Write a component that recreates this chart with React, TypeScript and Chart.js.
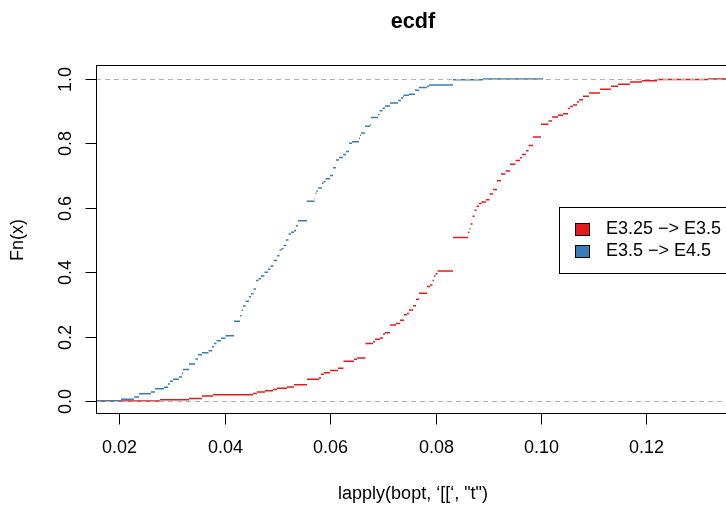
import React, { useEffect, useRef } from "react";
import { Chart, registerables } from "chart.js";

Chart.register(...registerables);

// ---- data ----
const X_MIN = 0.01556;
const X_MAX = 0.13586;
const Y_MIN = -0.04;
const Y_MAX = 1.04;

const xTicks = [0.02, 0.04, 0.06, 0.08, 0.1, 0.12];
const xTickLabels = ["0.02", "0.04", "0.06", "0.08", "0.10", "0.12"];
const yTicks = [0, 0.2, 0.4, 0.6, 0.8, 1.0];
const yTickLabels = ["0.0", "0.2", "0.4", "0.6", "0.8", "1.0"];

const titleText = "ecdf";
const xAxisTitle = "lapply(bopt, \u2018[[\u2018, \"t\")";
const yAxisTitle = "Fn(x)";

const seriesNames = ["E3.25 \u2212> E3.5", "E3.5 \u2212> E4.5"];
const seriesColors = ["#E41A1C", "#377EB8"];

// E3.25 -> E3.5 : jump locations and ecdf level after each jump
const redX = [0.0277, 0.03321, 0.03567, 0.03776, 0.04535, 0.04611, 0.04763, 0.04915, 0.04991, 0.0518,
  0.05313, 0.0556, 0.05787, 0.05825, 0.05882, 0.05996, 0.06148, 0.06252, 0.06452, 0.06509,
  0.0667, 0.06812, 0.0685, 0.06945, 0.07002, 0.0704, 0.07135, 0.07249, 0.07324, 0.074,
  0.07457, 0.07495, 0.07571, 0.07628, 0.07685, 0.07837, 0.07894, 0.07941, 0.0797, 0.07998,
  0.08036, 0.0833, 0.08615, 0.08643, 0.08662, 0.087, 0.08738, 0.08776, 0.08824, 0.08871,
  0.08956, 0.09023, 0.09089, 0.09165, 0.09241, 0.09326, 0.09412, 0.09516, 0.09602, 0.09639,
  0.09715, 0.09763, 0.09848, 0.1, 0.10142, 0.10209, 0.10323, 0.10417, 0.10512, 0.1055,
  0.10607, 0.10683, 0.10721, 0.10797, 0.10911, 0.1112, 0.11328, 0.11461, 0.11689, 0.11917,
  0.12201, 0.13169];
const redF = [0.004, 0.008, 0.016, 0.02, 0.024, 0.028, 0.032, 0.036, 0.04, 0.044,
  0.051, 0.068, 0.072, 0.083, 0.088, 0.095, 0.102, 0.124, 0.13, 0.134,
  0.179, 0.184, 0.192, 0.196, 0.208, 0.212, 0.236, 0.241, 0.251, 0.268,
  0.272, 0.283, 0.296, 0.316, 0.335, 0.356, 0.36, 0.374, 0.388, 0.395,
  0.404, 0.508, 0.523, 0.535, 0.55, 0.574, 0.592, 0.605, 0.613, 0.618,
  0.625, 0.643, 0.657, 0.684, 0.705, 0.714, 0.735, 0.747, 0.755, 0.765,
  0.777, 0.793, 0.82, 0.859, 0.869, 0.882, 0.887, 0.892, 0.908, 0.914,
  0.919, 0.928, 0.935, 0.946, 0.956, 0.968, 0.977, 0.983, 0.99, 0.994,
  0.998, 1.0];
const redEnd = X_MAX;

// E3.5 -> E4.5
const blueX = [0.0203, 0.02277, 0.02372, 0.026, 0.02676, 0.02846, 0.02922, 0.0296, 0.03017, 0.03131,
  0.03188, 0.03207, 0.03321, 0.03435, 0.03444, 0.03491, 0.03567, 0.03691, 0.03757, 0.03795,
  0.03843, 0.03928, 0.04013, 0.04175, 0.04288, 0.04317, 0.04345, 0.04393, 0.04459, 0.04497,
  0.04545, 0.04592, 0.04639, 0.04687, 0.04753, 0.0482, 0.04867, 0.04924, 0.04991, 0.05038,
  0.05076, 0.05114, 0.05161, 0.05209, 0.05256, 0.05313, 0.05351, 0.05389, 0.0556, 0.05702,
  0.05712, 0.05721, 0.0574, 0.05769, 0.05844, 0.05873, 0.05911, 0.05996, 0.06053, 0.0611,
  0.06167, 0.06243, 0.063, 0.06357, 0.06414, 0.06546, 0.06565, 0.06584, 0.0666, 0.06755,
  0.06774, 0.06907, 0.06935, 0.06992, 0.0704, 0.07135, 0.07287, 0.07343, 0.07381, 0.074,
  0.07495, 0.07609, 0.07685, 0.07837, 0.07875, 0.0833, 0.08899];
const blueF = [0.006, 0.013, 0.023, 0.028, 0.038, 0.043, 0.053, 0.062, 0.068, 0.075,
  0.087, 0.098, 0.115, 0.124, 0.131, 0.144, 0.15, 0.156, 0.169, 0.179,
  0.187, 0.195, 0.203, 0.248, 0.265, 0.282, 0.295, 0.31, 0.324, 0.333,
  0.348, 0.374, 0.38, 0.388, 0.4, 0.409, 0.419, 0.436, 0.451, 0.469,
  0.473, 0.483, 0.5, 0.519, 0.524, 0.529, 0.544, 0.56, 0.62, 0.628,
  0.637, 0.645, 0.652, 0.661, 0.676, 0.681, 0.69, 0.7, 0.724, 0.748,
  0.756, 0.765, 0.775, 0.8, 0.805, 0.816, 0.825, 0.832, 0.853, 0.857,
  0.88, 0.889, 0.901, 0.909, 0.916, 0.925, 0.933, 0.941, 0.946, 0.949,
  0.952, 0.965, 0.973, 0.977, 0.981, 0.997, 1.0];
const blueEnd = 0.10038;

// ---- helpers ----
function stepSegments(knots: number[], levels: number[], start: number, end: number) {
  const xs = [start, ...knots];
  const ys = [0, ...levels];
  const pts: { x: number; y: number | null }[] = [];
  for (let i = 0; i < xs.length; i++) {
    const x0 = xs[i];
    const x1 = i + 1 < xs.length ? xs[i + 1] : end;
    pts.push({ x: x0, y: ys[i] }, { x: x1, y: ys[i] }, { x: x1, y: null });
  }
  return pts;
}

const FONT = "'Liberation Sans', Arial, Helvetica, sans-serif";
const CANVAS_W = 746;
const CANVAS_H = 506;

const rPlot = {
  id: "rPlot",
  afterDatasetsDraw(chart: any) {
    const { ctx, chartArea: ca, scales } = chart;
    const ys = scales.y;
    ctx.save();
    ctx.strokeStyle = "#B3B3B3";
    ctx.lineWidth = 1;
    ctx.setLineDash([5, 4]);
    [0, 1].forEach((v) => {
      const py = Math.round(ys.getPixelForValue(v)) + 0.5;
      ctx.beginPath();
      ctx.moveTo(ca.left, py);
      ctx.lineTo(ca.right, py);
      ctx.stroke();
    });
    ctx.restore();
  },
  afterDraw(chart: any) {
    const { ctx, chartArea: ca, scales } = chart;
    const xs = scales.x;
    const ys = scales.y;
    const L = Math.round(ca.left) + 0.5;
    const T = Math.round(ca.top) - 0.5;
    const B = Math.round(ca.bottom) - 0.5;
    const R = Math.round(ca.right) + 0.5;
    ctx.save();
    ctx.strokeStyle = "#000";
    ctx.lineWidth = 1;
    ctx.setLineDash([]);
    ctx.strokeRect(L, T, R - L, B - T);

    // x ticks
    ctx.fillStyle = "#000";
    ctx.font = `18px ${FONT}`;
    ctx.textAlign = "center";
    ctx.textBaseline = "middle";
    xTicks.forEach((v, i) => {
      const px = Math.round(xs.getPixelForValue(v)) + 0.5;
      ctx.beginPath();
      ctx.moveTo(px, B);
      ctx.lineTo(px, B + 11);
      ctx.stroke();
      ctx.fillText(xTickLabels[i], px, B + 35);
    });
    // y ticks
    yTicks.forEach((v, i) => {
      const py = Math.round(ys.getPixelForValue(v)) + 0.5;
      ctx.beginPath();
      ctx.moveTo(L, py);
      ctx.lineTo(L - 11, py);
      ctx.stroke();
      ctx.save();
      ctx.translate(L - 30, py);
      ctx.rotate(-Math.PI / 2);
      ctx.fillText(yTickLabels[i], 0, 0);
      ctx.restore();
    });

    // axis titles
    const cx = (ca.left + ca.right) / 2;
    const cy = (ca.top + ca.bottom) / 2;
    ctx.fillText(xAxisTitle, cx, B + 81);
    ctx.save();
    ctx.translate(L - 78, cy);
    ctx.rotate(-Math.PI / 2);
    ctx.fillText(yAxisTitle, 0, 0);
    ctx.restore();

    // main title
    ctx.font = `bold 21.6px ${FONT}`;
    ctx.fillText(titleText, cx, 22);

    // legend
    ctx.font = `18px ${FONT}`;
    const lx = 559.5;
    const ly = 207.5;
    const lh = 66;
    const textX = 606;
    const w0 = Math.max(...seriesNames.map((s) => ctx.measureText(s).width));
    ctx.fillStyle = "#fff";
    ctx.fillRect(lx, ly, textX + w0 + 10 - lx, lh);
    ctx.strokeRect(lx, ly, textX + w0 + 10 - lx, lh);
    ctx.textAlign = "left";
    seriesNames.forEach((name, i) => {
      const rowY = 229.5 + i * 22;
      ctx.fillStyle = seriesColors[i];
      ctx.fillRect(575.5, rowY - 6, 14, 12);
      ctx.strokeStyle = "#000";
      ctx.strokeRect(575.5, rowY - 6, 14, 12);
      ctx.fillStyle = "#000";
      ctx.fillText(name, textX, rowY);
    });
    ctx.restore();
  },
};

export default function App() {
  const ref = useRef<HTMLCanvasElement | null>(null);
  useEffect(() => {
    if (!ref.current) return;
    const chart = new Chart(ref.current, {
      type: "line",
      data: {
        datasets: [
          {
            label: seriesNames[0],
            data: stepSegments(redX, redF, X_MIN, redEnd) as any,
            borderColor: seriesColors[0],
            borderWidth: 1.5,
            pointRadius: 0,
            spanGaps: false,
            tension: 0,
            fill: false,
            order: 1,
          },
          {
            label: seriesNames[1],
            data: stepSegments(blueX, blueF, X_MIN, blueEnd) as any,
            borderColor: seriesColors[1],
            borderWidth: 1.5,
            pointRadius: 0,
            spanGaps: false,
            tension: 0,
            fill: false,
            order: 0,
          },
        ],
      },
      options: {
        responsive: false,
        animation: false,
        events: [],
        layout: { padding: { left: 96, top: 66, right: CANVAS_W - 730, bottom: CANVAS_H - 414 } },
        scales: {
          x: { type: "linear", min: X_MIN, max: X_MAX, display: false },
          y: { type: "linear", min: Y_MIN, max: Y_MAX, display: false },
        },
        plugins: {
          legend: { display: false },
          tooltip: { enabled: false },
          title: { display: false },
        },
      },
      plugins: [rPlot],
    });
    return () => chart.destroy();
  }, []);
  return (
    <div
      style={{
        position: "fixed",
        left: 0,
        top: 0,
        width: 726,
        height: 506,
        overflow: "hidden",
        background: "#fff",
      }}
    >
      <canvas ref={ref} width={CANVAS_W} height={CANVAS_H} style={{ display: "block" }} />
    </div>
  );
}
